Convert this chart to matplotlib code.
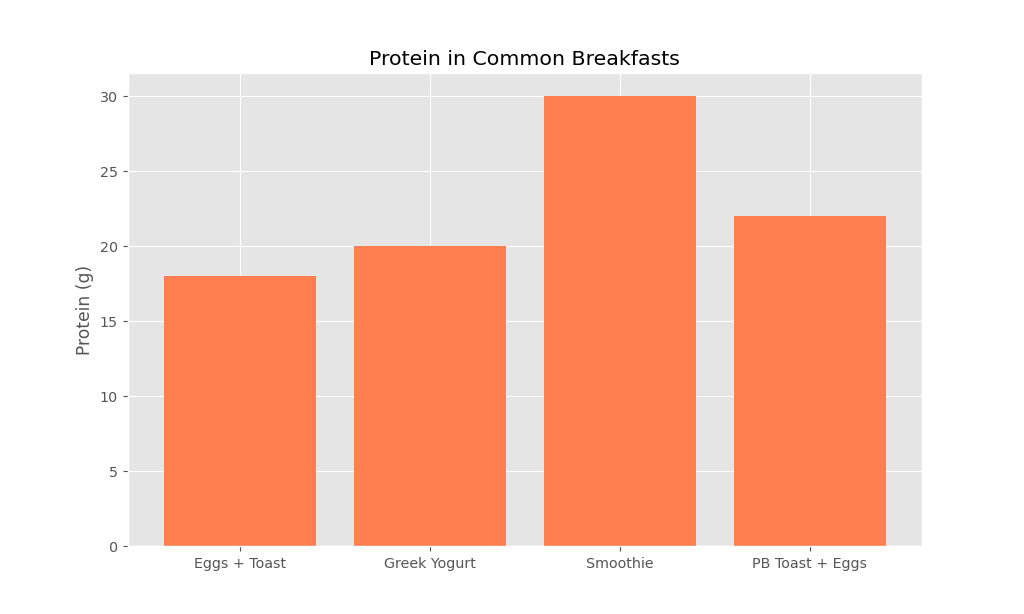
import matplotlib
matplotlib.use("Agg")
import matplotlib.pyplot as plt

plt.style.use("ggplot")

meals = ["Eggs + Toast", "Greek Yogurt", "Smoothie", "PB Toast + Eggs"]
protein = [18, 20, 30, 22]

fig, ax = plt.subplots(figsize=(10, 6), dpi=102.4)
ax.bar(meals, protein, color="coral")
ax.set_title("Protein in Common Breakfasts")
ax.set_ylabel("Protein (g)")

plt.savefig("out.png")
